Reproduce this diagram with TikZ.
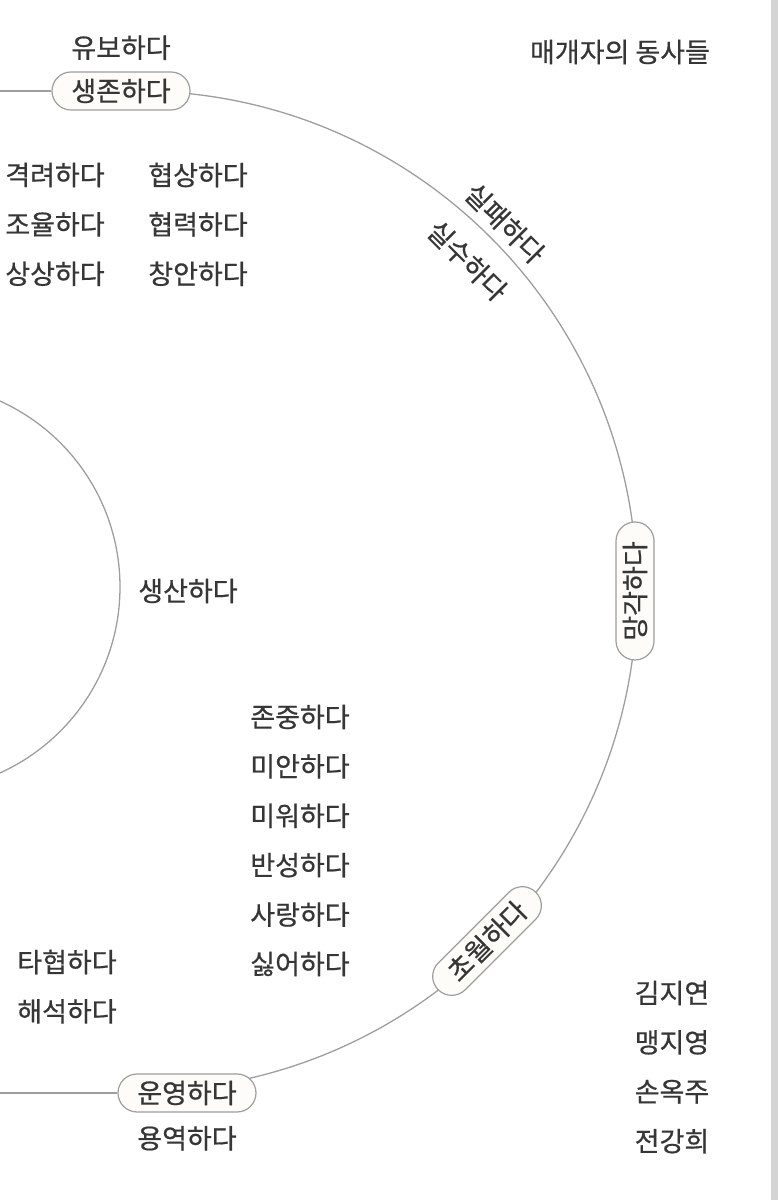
\documentclass[tikz,border=0pt]{standalone}
\usepackage{fontspec}
\newfontfamily\krfont[FakeBold=0.6]{Noto Sans CJK KR}
\usetikzlibrary{positioning}
\definecolor{inkgray}{HTML}{363636}
\definecolor{ringgray}{HTML}{9E9E9E}
\definecolor{pillfill}{HTML}{FDFCF9}
\definecolor{edgegray}{HTML}{D4D4D4}

\begin{document}
\begin{tikzpicture}[x=1pt, y=1pt,
    node distance=22pt,
    verb/.style={inner sep=0pt, minimum height=27pt, text=inkgray, font=\krfont\fontsize{27}{32}\selectfont},
    pill/.style={verb, draw=ringgray, fill=pillfill, line width=1.2pt, rounded corners=19pt, minimum width=138pt, minimum height=38pt},
    ring/.style={draw=ringgray, line width=1.3pt}
]
\useasboundingbox (0,0) rectangle (778,1200);
\clip (0,0) rectangle (778,1200);
\fill[edgegray] (771,0) rectangle (778,1200);

% rings
\coordinate (outer) at (137,609);
\coordinate (inner) at (-84,613);
\coordinate (topedge) at (0,1109);
\coordinate (bottomedge) at (0,107);
\draw[ring] ([shift={(90:500)}]outer) arc[start angle=90, end angle=-90, radius=500];
\draw[ring] (inner) circle[radius=204];

% pills on the ring
\node[pill] (survive) at (121,1109) {생존하다};
\node[pill, rotate=90] (forget) at ([shift={(0:498)}]outer) {망각하다};
\node[pill, rotate=45] (transcend) at ([shift={(-45:495)}]outer) {초월하다};
\node[pill] (operate) at (187,107) {운영하다};
\draw[ring] (topedge) -- (survive);
\draw[ring] (bottomedge) -- (operate);

\node[verb, above=10pt of survive] (defer) {유보하다};
\node[verb, below=12pt of operate] (service) {용역하다};
\node[verb] (title) at (620,1148) {매개자의 동사들};

% upper grid
\node[verb] (encourage) at (55,1025) {격려하다};
\node[verb, below=of encourage] (adjust) {조율하다};
\node[verb, below=of adjust] (imagine) {상상하다};
\node[verb] (negotiate) at (198,1025) {협상하다};
\node[verb, below=of negotiate] (cooperate) {협력하다};
\node[verb, below=of cooperate] (devise) {창안하다};

% along the ring
\node[verb, rotate=-45] (fail) at ([shift={(45:520)}]outer) {실패하다};
\node[verb, rotate=-45] (mistake) at ([shift={(45:467)}]outer) {실수하다};

\node[verb] (produce) at (188,609) {생산하다};

% lower column
\node[verb] (respect) at (300,483) {존중하다};
\node[verb, below=of respect] (sorry) {미안하다};
\node[verb, below=of sorry] (hate) {미워하다};
\node[verb, below=of hate] (reflect) {반성하다};
\node[verb, below=of reflect] (love) {사랑하다};
\node[verb, below=of love] (dislike) {싫어하다};

\node[verb] (compromise) at (67,238) {타협하다};
\node[verb, below=of compromise] (interpret) {해석하다};

% authors
\node[verb] (kim) at (672,207) {김지연};
\node[verb, below=of kim] (maeng) {맹지영};
\node[verb, below=of maeng] (son) {손옥주};
\node[verb, below=of son] (jeon) {전강희};

\end{tikzpicture}
\end{document}
